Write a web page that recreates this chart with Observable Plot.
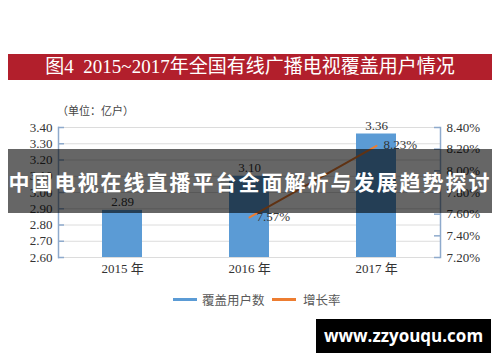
<!DOCTYPE html>
<html><head><meta charset="utf-8">
<script src="https://cdn.jsdelivr.net/npm/d3@7"></script>
<script src="https://cdn.jsdelivr.net/npm/@observablehq/plot@0.6"></script>
<style>
html,body{margin:0;padding:0;background:#fff;}
#wrap{position:relative;width:500px;height:362px;overflow:hidden;background:#fff;}
#wrap svg{position:absolute;left:0;top:0;}
.abs{position:absolute;white-space:nowrap;}
</style></head>
<body>
<div id="wrap"></div>
<script>
const years = ["2015 年", "2016 年", "2017 年"];
const users = [2.89, 3.10, 3.36];
const growthYears = ["2016 年", "2017 年"];
const growthRates = [7.57, 8.23];
const leftTicks = [2.6, 2.7, 2.8, 2.9, 3.0, 3.1, 3.2, 3.3, 3.4];
const rightTicks = [7.2, 7.4, 7.6, 7.8, 8.0, 8.2, 8.4];
const titleText = "图4  2015~2017年全国有线广播电视覆盖用户情况";
const unitText = "（单位：亿户）";
const legendLabels = ["覆盖用户数", "增长率"];
const bannerText = "中国电视在线直播平台全面解析与发展趋势探讨";
const watermarkText = "www.zzyouqu.com";

const W = 500, H = 362;
const mL = 58, mR = 60, mT = 127, mB = 105;
const plotW = W - mL - mR;
const blue = "#5b9bd5", orange = "#ed7d31", axisColor = "#8eaacc";

const lMin = leftTicks[0], lMax = leftTicks[leftTicks.length - 1];
const rMin = rightTicks[0], rMax = rightTicks[rightTicks.length - 1];
const toLeft = p => lMin + (p - rMin) / (rMax - rMin) * (lMax - lMin);
const toRight = v => rMin + (v - lMin) / (lMax - lMin) * (rMax - rMin);

const barData = years.map((y, i) => ({year: y, value: users[i]}));
const lineData = growthYears.map((y, i) => ({year: y, rate: growthRates[i], v: toLeft(growthRates[i])}));
const rightMapped = rightTicks.map(toLeft);

const chart = Plot.plot({
  width: W, height: H,
  marginLeft: mL, marginRight: mR, marginTop: mT, marginBottom: mB,
  x: {domain: years, paddingInner: 0.686, paddingOuter: 0.343, axis: null, label: null},
  y: {domain: [lMin, lMax], axis: null, label: null},
  style: {fontFamily: "'Liberation Serif', 'Noto Sans CJK SC', serif", fontSize: "13px", color: "#333", background: "transparent"},
  marks: [
    Plot.ruleY(leftTicks, {stroke: "#dcdcdc", strokeWidth: 1}),
    Plot.barY(barData, {x: "year", y1: lMin, y2: "value", fill: blue}),
    Plot.frame({anchor: "left", stroke: axisColor, strokeWidth: 1.5}),
    Plot.frame({anchor: "right", stroke: axisColor, strokeWidth: 1.5}),
    Plot.ruleY(leftTicks, {stroke: axisColor, strokeWidth: 1.5, insetRight: plotW - 6}),
    Plot.ruleY(rightMapped, {stroke: axisColor, strokeWidth: 1.5, insetLeft: plotW - 6}),
    Plot.axisY(leftTicks, {anchor: "left", tickSize: 0, tickPadding: 6, label: null, tickFormat: d => d.toFixed(2), fontSize: 13, fill: "#333"}),
    Plot.axisY(rightMapped, {anchor: "right", tickSize: 0, tickPadding: 6, label: null, tickFormat: d => toRight(d).toFixed(2) + "%", fontSize: 13, fill: "#333"}),
    Plot.axisX(years, {tickSize: 0, tickPadding: 6, label: null, fontSize: 13, fill: "#333"}),
    Plot.text(barData, {x: "year", y: "value", text: d => d.value.toFixed(2), dy: -4, lineAnchor: "bottom", fontSize: 13, fill: "#333"}),
    Plot.lineY(lineData, {x: "year", y: "v", stroke: orange, strokeWidth: 2}),
    Plot.text(lineData, {x: "year", y: "v", text: d => d.rate.toFixed(2) + "%", textAnchor: "start", dx: 7, dy: -1, fontSize: 13, fill: "#333"})
  ]
});

const wrap = document.getElementById("wrap");
wrap.appendChild(chart);

function addDiv(style, text) {
  const d = document.createElement("div");
  d.className = "abs";
  d.setAttribute("style", style);
  if (text !== undefined) d.textContent = text;
  wrap.appendChild(d);
  return d;
}

// title bar
addDiv("left:8px;top:54px;width:484px;height:26px;background:#b21f2c;color:#fff;font-family:'Liberation Serif','Noto Sans CJK SC',serif;font-size:19px;line-height:26px;text-align:center;white-space:pre;", titleText);
// unit
addDiv("left:57px;top:102px;font-family:'Noto Sans CJK SC',sans-serif;font-size:11px;line-height:16px;color:#444;", unitText);
// legend
addDiv("left:173px;top:298px;width:24px;height:3px;background:" + blue + ";");
addDiv("left:202px;top:291px;font-family:'Noto Sans CJK SC',sans-serif;font-size:12.5px;line-height:17px;color:#595959;", legendLabels[0]);
addDiv("left:272px;top:298px;width:24px;height:3px;background:" + orange + ";");
addDiv("left:303px;top:291px;font-family:'Noto Sans CJK SC',sans-serif;font-size:12.5px;line-height:17px;color:#595959;", legendLabels[1]);
// banner overlay
addDiv("left:8px;top:149px;width:484px;height:64px;background:rgba(0,0,0,0.6);color:#fff;font-family:'Noto Sans CJK SC',sans-serif;font-weight:bold;font-size:21px;letter-spacing:2px;line-height:64px;text-align:center;", bannerText);
// watermark
addDiv("left:316px;top:319px;width:175px;height:34px;background:#000;color:#fff;font-family:'Open Sans',sans-serif;font-weight:bold;font-size:17px;line-height:34px;text-align:center;", watermarkText);
</script>
</body></html>
